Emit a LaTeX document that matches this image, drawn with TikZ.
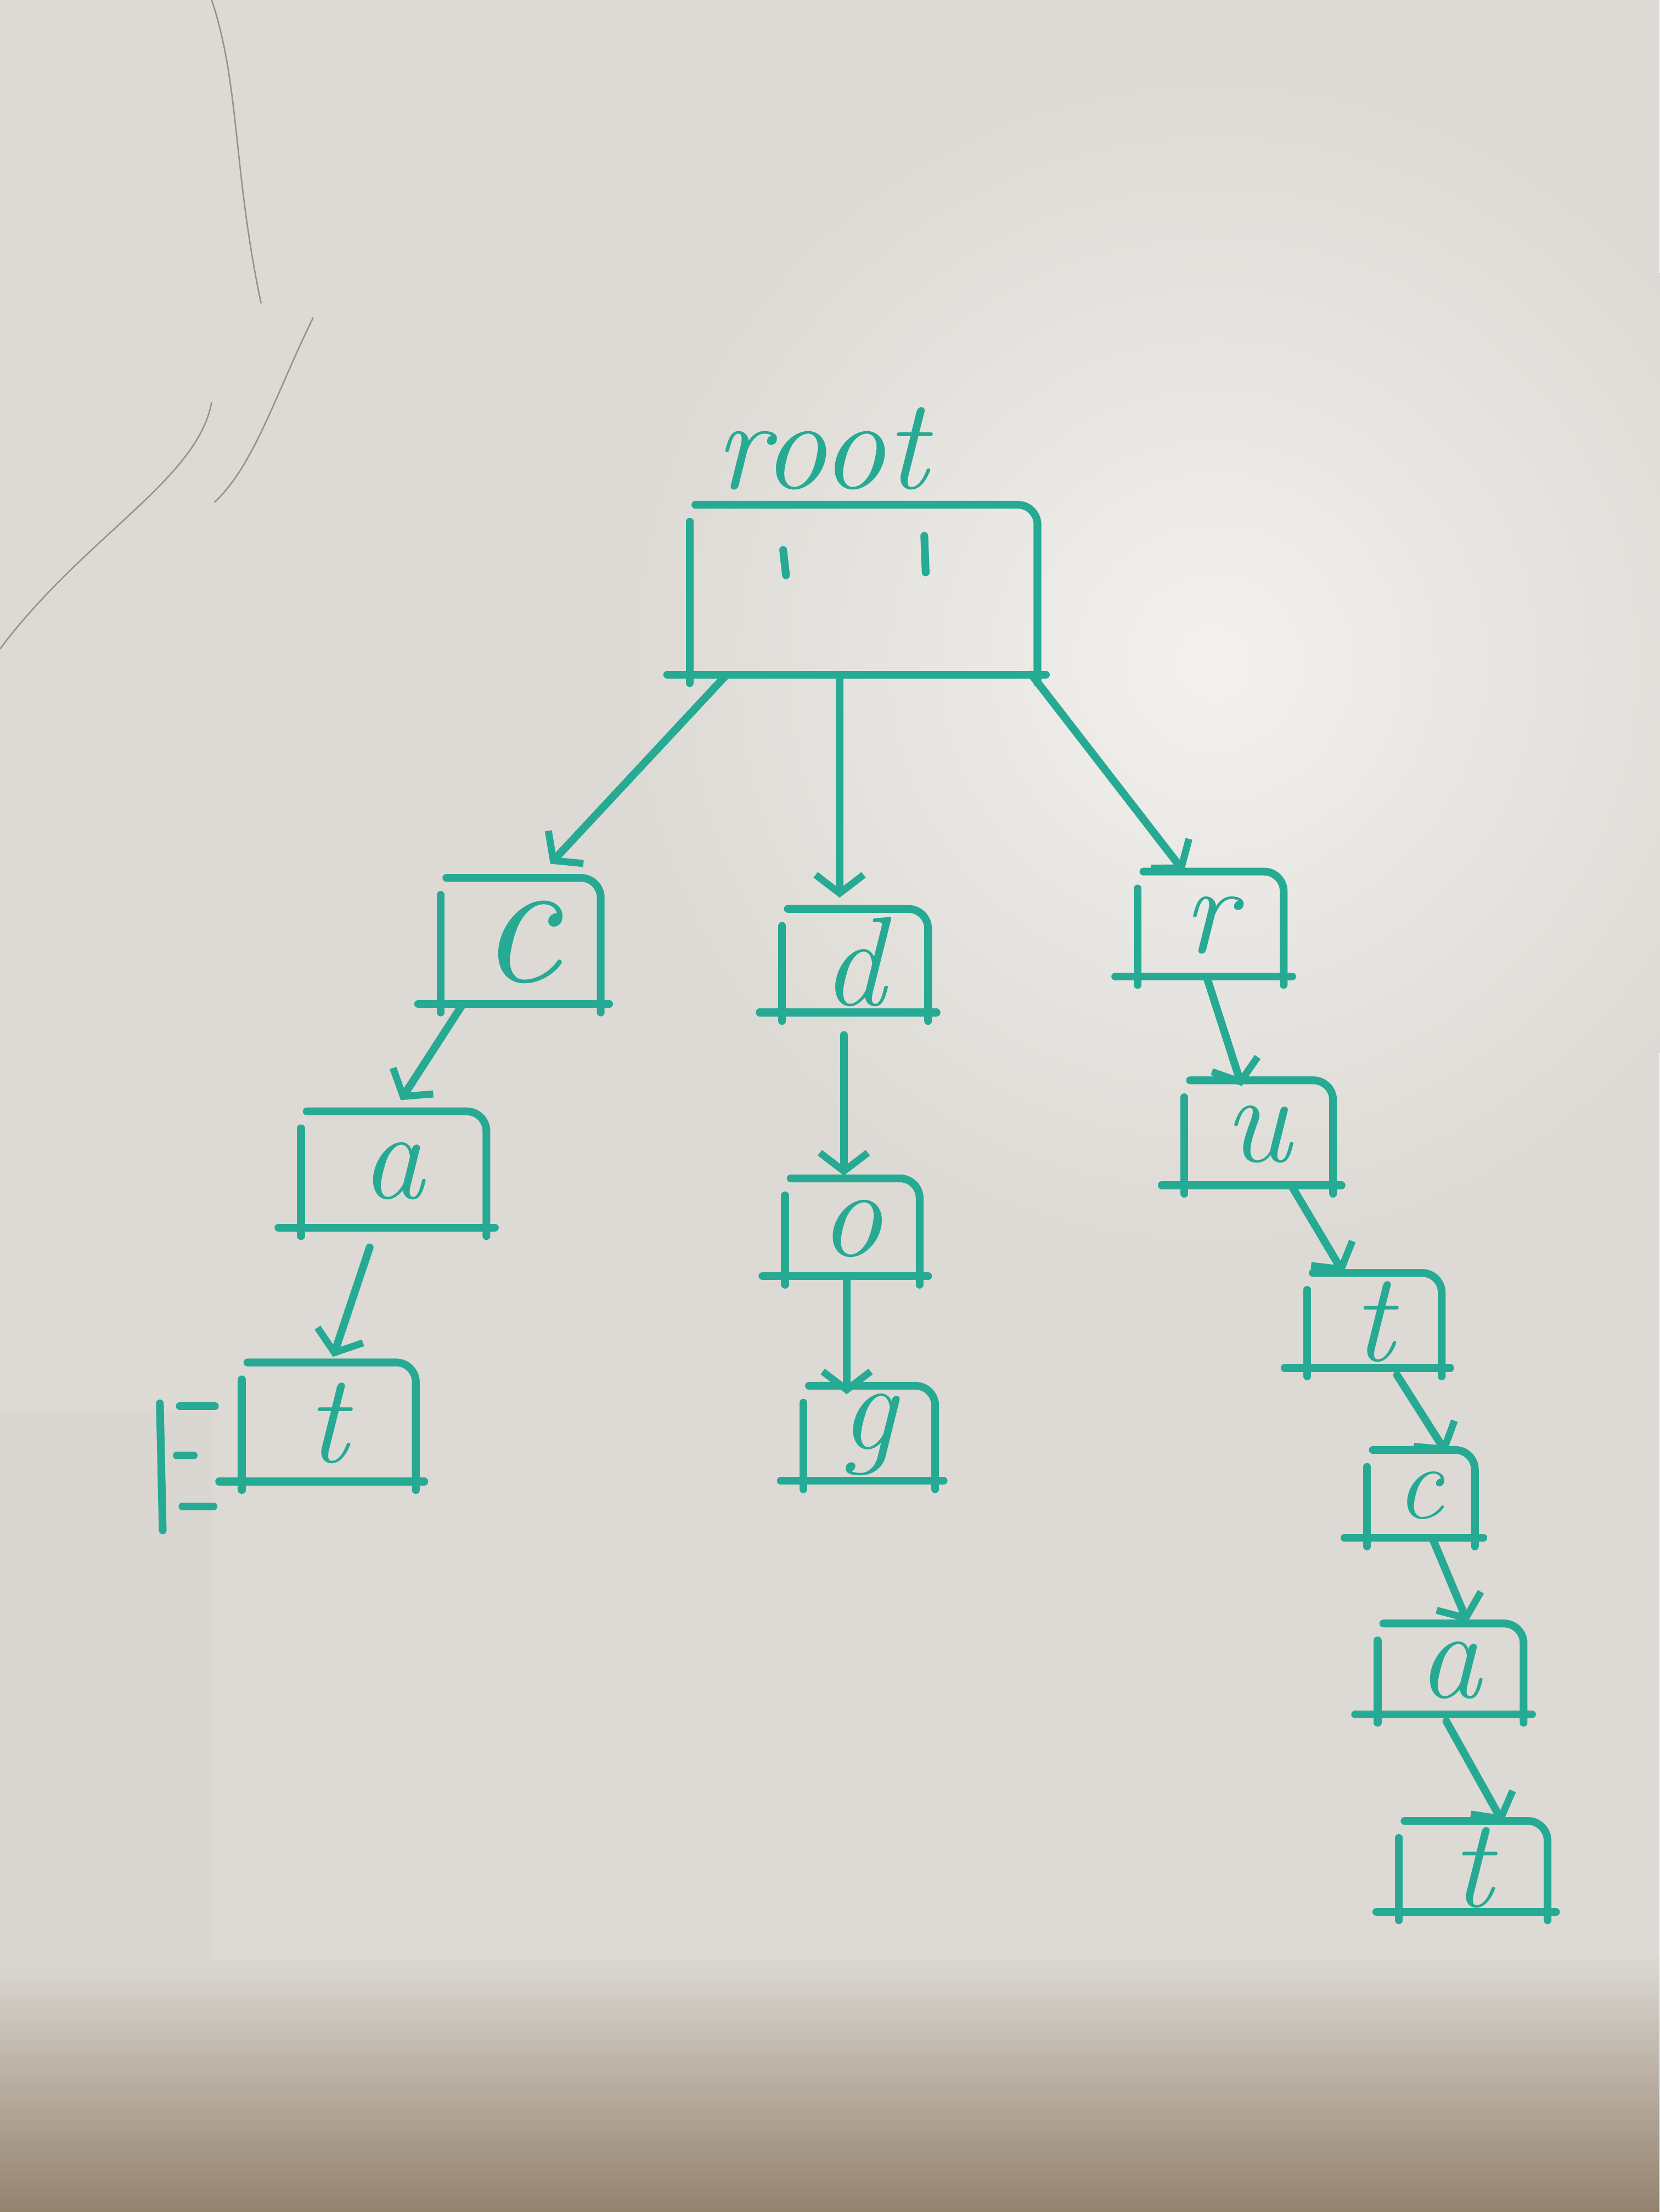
\documentclass[tikz,border=0pt]{standalone}
\usetikzlibrary{arrows.meta}
\definecolor{ink}{RGB}{38,170,148}
\definecolor{board}{RGB}{221,218,213}
\definecolor{glare}{RGB}{242,241,238}
\definecolor{floorc}{RGB}{148,130,110}
\definecolor{crack}{RGB}{150,145,140}
\tikzset{
  mk/.style={draw=ink,line width=5.5pt,line cap=round,line join=round},
  edge/.style={mk,-{Straight Barb[length=13pt,width=34pt,line width=5pt]}},
  boxn/.style={draw=none,inner sep=0pt,text=ink,font=\itshape\fontsize{90}{90}\selectfont},
  letter/.style={inner sep=0pt,text=ink,font=\itshape\fontsize{92}{92}\selectfont},
}
\newcommand\wbox[1]{%
  \draw[mk,rounded corners=14pt] ([xshift=6pt,yshift=2pt]#1.north west) -- ([yshift=2pt]#1.north east) -- ([yshift=-6pt]#1.south east);
  \draw[mk] ([xshift=2pt,yshift=-10pt]#1.north west) -- ([xshift=2pt,yshift=-6pt]#1.south west);
  \draw[mk] ([xshift=-14pt]#1.south west) -- ([xshift=6pt]#1.south east);
}
\begin{document}
\begin{tikzpicture}[x=1pt,y=-1pt]
\useasboundingbox (0,0) rectangle (1176,1568);
% background
\fill[board] (0,0) rectangle (1176,1568);
\shade[inner color=glare,outer color=board] (860,470) circle (420pt);
\shade[top color=board,bottom color=floorc] (0,1385) rectangle (1176,1568);
\fill[board!92!black,opacity=0.15] (0,1000) rectangle (150,1390);
% cracks
\draw[crack,line width=1pt] (150,0) .. controls (170,60) and (165,120) .. (185,215);
\draw[crack,line width=1pt] (222,225) .. controls (195,280) and (180,330) .. (152,356);
\draw[crack,line width=1pt] (150,285) .. controls (140,340) and (60,380) .. (0,460);

% nodes
\node[letter] (rootlabel) at (582,318) {root};
\node[boxn,minimum width=248pt,minimum height=118pt] (root) at (611,419) {};
\node[boxn,minimum width=115pt,minimum height=87pt,font=\itshape\fontsize{130}{130}\selectfont] (c1) at (368,668) {c};
\node[boxn,minimum width=105pt,minimum height=71pt] (d) at (605,682) {d};
\node[boxn,minimum width=105pt,minimum height=72pt] (r) at (857,656) {r};
\node[boxn,minimum width=133pt,minimum height=80pt] (a1) at (278,830) {a};
\node[boxn,minimum width=125pt,minimum height=82pt] (t1) at (232,1009) {t};
\node[boxn,minimum width=97pt,minimum height=67pt] (o) at (603,871) {o};
\node[boxn,minimum width=95pt,minimum height=65pt] (g) at (615,1017) {g};
\node[boxn,minimum width=107pt,minimum height=72pt] (u) at (891,804) {u};
\node[boxn,minimum width=97pt,minimum height=65pt] (t2) at (973,937) {t};
\node[boxn,minimum width=78pt,minimum height=60pt,font=\itshape\fontsize{75}{75}\selectfont] (c2) at (1006,1060) {c};
\node[boxn,minimum width=105pt,minimum height=62pt] (a2) at (1027,1184) {a};
\node[boxn,minimum width=107pt,minimum height=62pt] (t3) at (1043,1324) {t};

% box outlines
\foreach \n in {root,c1,d,r,a1,t1,o,g,u,t2,c2,a2,t3} {\wbox{\n}}

% root inner ticks
\draw[mk] ([xshift=-56pt,yshift=-30pt]root.north) -- ([xshift=-54pt,yshift=-48pt]root.north);
\draw[mk] ([xshift=44pt,yshift=-20pt]root.north) -- ([xshift=45pt,yshift=-46pt]root.north);

% extra mark left of t1
\draw[mk] ([xshift=-56pt,yshift=-27pt]t1.north west) -- ++(2,90);
\draw[mk] ([xshift=-42pt,yshift=-29pt]t1.north west) -- ++(25,0);
\draw[mk] ([xshift=-44pt,yshift=-64pt]t1.north west) -- ++(12,0);
\draw[mk] ([xshift=-40pt,yshift=-100pt]t1.north west) -- ++(22,0);

% edges
\draw[edge] ([xshift=-96pt]root.south) -- ([xshift=22pt,yshift=12pt]c1.north);
\draw[edge] ([xshift=-16pt]root.south) -- ([xshift=-10pt,yshift=10pt]d.north);
\draw[edge] ([xshift=120pt]root.south) -- ([xshift=-18pt,yshift=2pt]r.north);
\draw[edge] ([xshift=-40pt]c1.south) -- ([xshift=6pt,yshift=10pt]a1.north);
\draw[edge] ([xshift=-16pt,yshift=-14pt]a1.south) -- ([xshift=4pt,yshift=6pt]t1.north);
\draw[edge] ([xshift=-7pt,yshift=-16pt]d.south) -- ([xshift=-5pt,yshift=4pt]o.north);
\draw[edge] ([xshift=-3pt]o.south) -- ([xshift=-15pt,yshift=-4pt]g.north);
\draw[edge] ([xshift=-2pt]r.south) -- ([xshift=-11pt,yshift=-2pt]u.north);
\draw[edge] ([xshift=24pt]u.south) -- ([xshift=-21pt,yshift=2pt]t2.north);
\draw[edge] ([xshift=17pt,yshift=-5pt]t2.south) -- ([xshift=19pt,yshift=0pt]c2.north);
\draw[edge] ([xshift=9pt]c2.south) -- ([xshift=13pt,yshift=3pt]a2.north);
\draw[edge] ([xshift=-2pt,yshift=-5pt]a2.south) -- ([xshift=22pt,yshift=1pt]t3.north);
\end{tikzpicture}
\end{document}
